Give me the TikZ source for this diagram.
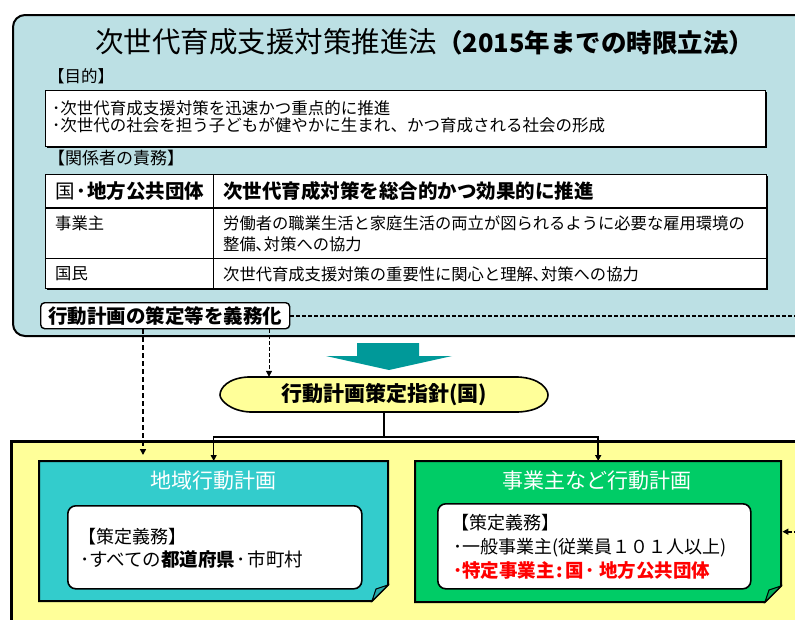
\documentclass[tikz,border=0pt]{standalone}
\usepackage{fontspec}
\setmainfont{Noto Sans CJK JP}
\usetikzlibrary{arrows.meta}
\definecolor{lawblue}{RGB}{188,224,228}
\definecolor{planyellow}{RGB}{255,255,153}
\definecolor{tealbox}{RGB}{51,204,204}
\definecolor{tealfold}{RGB}{40,170,170}
\definecolor{greenbox}{RGB}{0,204,102}
\definecolor{greenfold}{RGB}{0,170,85}
\definecolor{arrowteal}{RGB}{0,153,153}
\definecolor{redtxt}{RGB}{255,0,0}
\newcommand{\fsz}[1]{\fontsize{#1}{#1}\selectfont}
\newcommand{\mdt}{\hspace{1.5pt}･\hspace{1.5pt}}
\begin{document}
\begin{tikzpicture}[x=1pt,y=-1pt,
  txt/.style={inner sep=0pt, anchor=west},
  ctxt/.style={inner sep=0pt, anchor=center},
  tip/.style={-{Triangle[length=6pt,width=6pt]}},
  conn/.style={draw=black, line width=1.5pt},
  box/.style={inner sep=0pt, anchor=north west},
]
\useasboundingbox (0,0) rectangle (795,619);
\clip (0,0) rectangle (795,619);

% ---------- top law box ----------
\node[box, minimum width=800, minimum height=321, draw=black, line width=2pt,
      fill=lawblue, rounded corners=12pt] (law) at (12,14) {};

\node[txt] (title) at (95,42) {{\fsz{28.5}次世代育成支援対策推進法}{\fsz{25.5}\bfseries（2015年までの時限立法）}};

\node[txt] (purposehead) at (48,76) {\fsz{16.5}【目的】};
\fill[black] (47,92) rectangle (767,148);
\node[box, minimum width=720, minimum height=56, draw=black, line width=1.2pt, fill=white] (purpose) at (45,90) {};
\node[txt] (p1) at (52,108) {\fsz{16.5}･次世代育成支援対策を迅速かつ重点的に推進};
\node[txt] (p2) at (52,125) {\fsz{16.5}･次世代の社会を担う子どもが健やかに生まれ、かつ育成される社会の形成};

\node[txt] (dutyhead) at (48,158) {\fsz{17}【関係者の責務】};

% table
\fill[black] (47,176) rectangle (768,290);
\node[box, minimum width=721, minimum height=114, draw=black, line width=1.2pt, fill=white] (table) at (45,174) {};
\draw[line width=2pt] (45,208) -- (766,208);
\draw[line width=1pt] (45,258) -- (766,258);
\draw[line width=1pt] (213,174) -- (213,288);
\node[txt] (r1a) at (55,191) {\fsz{19.5}国\bfseries \mdt 地方公共団体};
\node[txt] (r1b) at (223,191) {\fsz{19.5}\bfseries 次世代育成対策を総合的かつ効果的に推進};
\node[txt] (r2a) at (55,223) {\fsz{16.3}事業主};
\node[txt] (r2b) at (223,223) {\fsz{16.3}労働者の職業生活と家庭生活の両立が図られるように必要な雇用環境の};
\node[txt] (r2c) at (223,244) {\fsz{16.3}整備､対策への協力};
\node[txt] (r3a) at (55,274) {\fsz{16.3}国民};
\node[txt] (r3b) at (223,274) {\fsz{16.3}次世代育成支援対策の重要性に関心と理解､対策への協力};

% obligation node
\node[box, minimum width=249, minimum height=26, draw=black, line width=1.4pt, fill=white,
      rounded corners=4pt] (duty) at (40,302) {};
\node[ctxt] (dutytext) at (duty.center) {\fsz{19.5}\bfseries 行動計画の策定等を義務化};

% ---------- big teal arrow ----------
\fill[arrowteal] (357,343) -- (419,343) -- (419,356) -- (452,356) -- (389,370)
  -- (326,356) -- (357,356) -- cycle;

% ---------- guideline (national) ----------
\node[inner sep=0pt, minimum width=328, minimum height=35] (guide) at (384,394.5) {};
\draw[line width=1.6pt, fill=planyellow]
  (248,377) -- (518,377) .. controls (540,378) and (548,389) .. (548,395)
  .. controls (548,402) and (540,411) .. (518,412) -- (250,412)
  .. controls (230,411) and (220,400) .. (220,395)
  .. controls (220,388) and (228,378) .. (248,377) -- cycle;
\node[ctxt] (guidetext) at (guide.center) {\fsz{21}\bfseries 行動計画策定指針(国)};

% ---------- yellow area ----------
\node[box, minimum width=800, minimum height=200, draw=black, line width=2.5pt,
      fill=planyellow] (area) at (10,440) {};

% ---------- regional plan (teal) ----------
\node[box, minimum width=349, minimum height=140] (teal) at (39,461) {};
\draw[line width=2pt, fill=tealbox]
  (39,461) -- (388,461) -- (388,585) -- (372,601) -- (39,601) -- cycle;
\draw[line width=1pt, fill=tealfold] (388,585) -- (376,589) -- (372,601) -- cycle;
\node[ctxt, text=white] (tealtitle) at (213.5,481) {\fsz{21}地域行動計画};
\node[box, minimum width=294, minimum height=83, draw=black, line width=1.6pt, fill=white,
      rounded corners=8pt] (tealinner) at (67,505) {};
\node[txt] (t1) at (78,537) {\fsz{18}【策定義務】};
\node[txt] (t2) at (80,559) {\fsz{18.5}･すべての\textbf{都道府県}\mdt 市町村};

% ---------- employer plan (green) ----------
\node[box, minimum width=366, minimum height=141] (green) at (415,461) {};
\draw[line width=2pt, fill=greenbox]
  (415,461) -- (781,461) -- (781,586) -- (765,602) -- (415,602) -- cycle;
\draw[line width=1pt, fill=greenfold] (781,586) -- (769,590) -- (765,602) -- cycle;
\node[ctxt, text=white] (greentitle) at (597,481) {\fsz{21}事業主など行動計画};
\node[box, minimum width=313, minimum height=85, draw=black, line width=1.6pt, fill=white,
      rounded corners=8pt] (greeninner) at (437,503) {};
\node[txt] (g1) at (451,523) {\fsz{18}【策定義務】};
\node[txt] (g2) at (453,548) {\fsz{18}･一般事業主(従業員１０１人以上)};
\node[txt, text=redtxt] (g3) at (453,570) {\fsz{18.5}\bfseries ･特定事業主\hspace{2pt}:\hspace{2pt}国\hspace{2pt}･\hspace{4pt}地方公共団体};

% ---------- connectors ----------
\coordinate (bus) at (0,437);
\coordinate (d1) at (143,0);
\coordinate (d1end) at (143,455);
\coordinate (d2) at (269,0);
\coordinate (rx) at (802,0);

\draw[conn] (guide.south) -- (guide.south |- bus);
\draw[conn, line width=1.2pt, tip] (guide.south |- bus) -| (teal.north);
\draw[conn, line width=2pt, tip] (guide.south |- bus) -| (green.north);

\draw[line width=2.5pt, dash pattern=on 5pt off 3pt, tip] (duty.south -| d1) -- (d1end);
\draw[line width=1pt, dash pattern=on 4pt off 2pt, tip] (duty.south -| d2) -- (guide.north -| d2);
\draw[line width=2pt, dash pattern=on 4pt off 2pt, tip] (duty.east) -- (duty.east -| rx) |- ([xshift=1pt]green.east);

\end{tikzpicture}
\end{document}
